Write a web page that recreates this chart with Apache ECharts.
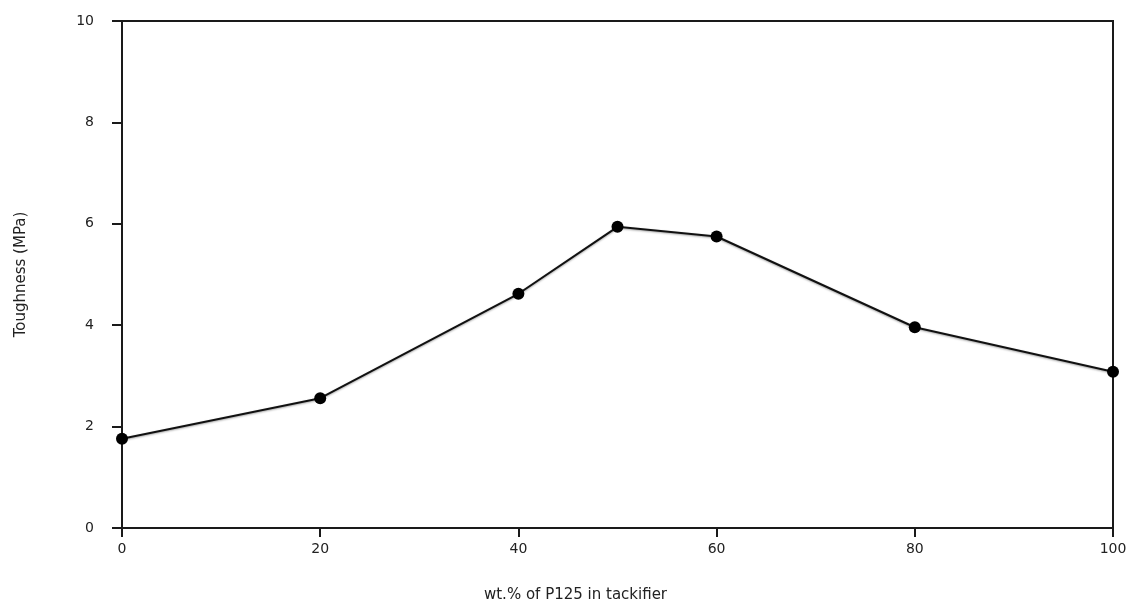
<!DOCTYPE html>
<html>
<head>
<meta charset="utf-8">
<script src="https://cdn.jsdelivr.net/npm/echarts@6/dist/echarts.min.js"></script>
<style>html,body{margin:0;padding:0;background:#fff}#c{width:1130px;height:608px}</style>
</head>
<body>
<div id="c"></div>
<script>
const xValues = [0, 20, 40, 50, 60, 80, 100];
const toughness = [1.76, 2.56, 4.62, 5.94, 5.75, 3.96, 3.08];
const xTicks = [0, 20, 40, 60, 80, 100];
const yTicks = [0, 2, 4, 6, 8, 10];
const xTitle = 'wt.% of P125 in tackifier';
const yTitle = 'Toughness (MPa)';

const chart = echarts.init(document.getElementById('c'));
const axisColor = '#1a1a1a';
const font = 'DejaVu Sans';
chart.setOption({
  animation: false,
  backgroundColor: '#fff',
  grid: {
    left: 122, right: 17, top: 21, bottom: 80,
    show: true, borderColor: axisColor, borderWidth: 2, backgroundColor: 'transparent'
  },
  xAxis: {
    type: 'value', min: 0, max: 100, interval: 20,
    name: xTitle, nameLocation: 'middle', nameGap: 60,
    nameTextStyle: { fontFamily: font, fontSize: 15, color: '#222', padding: [0, 84, 0, 0] },
    axisLine: { show: true, lineStyle: { color: axisColor, width: 2 } },
    axisTick: { show: true, length: 9, inside: false, lineStyle: { color: axisColor, width: 2 } },
    axisLabel: { margin: 14, fontFamily: font, fontSize: 14, color: '#222',
      formatter: v => xTicks.includes(v) ? String(v) : '' },
    splitLine: { show: false }
  },
  yAxis: {
    type: 'value', min: 0, max: 10, interval: 2,
    name: yTitle, nameLocation: 'middle', nameGap: 93, nameRotate: 90,
    nameTextStyle: { fontFamily: font, fontSize: 15, color: '#222' },
    axisLine: { show: true, lineStyle: { color: axisColor, width: 2 } },
    axisTick: { show: true, length: 10, inside: false, lineStyle: { color: axisColor, width: 2 } },
    axisLabel: { margin: 28, fontFamily: font, fontSize: 14, color: '#222',
      formatter: v => yTicks.includes(v) ? String(v) : '' },
    splitLine: { show: false }
  },
  series: [{
    type: 'line',
    data: xValues.map((x, i) => [x, toughness[i]]),
    symbol: 'circle', symbolSize: 12,
    itemStyle: { color: '#000' },
    lineStyle: { color: '#111', width: 2, shadowColor: 'rgba(0,0,0,0.35)', shadowBlur: 2, shadowOffsetY: 1 },
    clip: false
  }]
});
</script>
</body>
</html>
